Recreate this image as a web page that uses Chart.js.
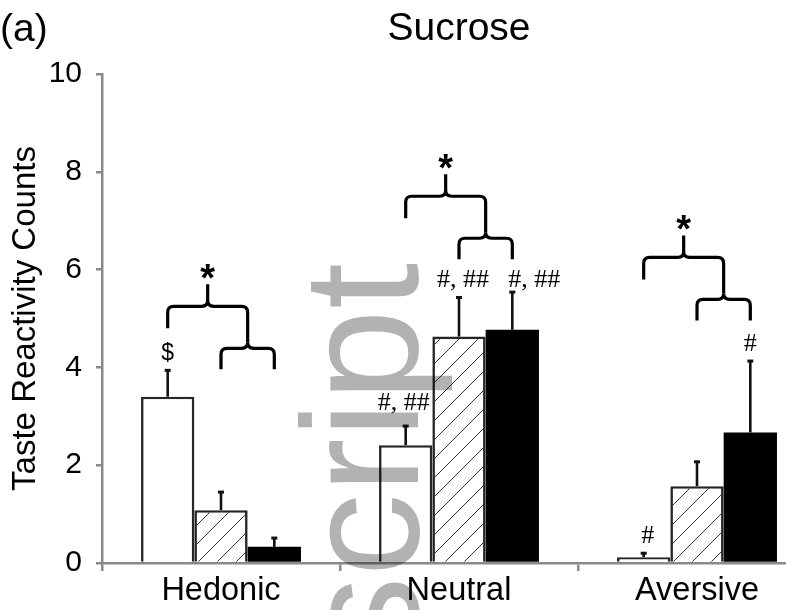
<!DOCTYPE html>
<html>
<head>
<meta charset="utf-8">
<script src="https://cdn.jsdelivr.net/npm/chart.js@4.4.1/dist/chart.umd.min.js"></script>
<style>
  html, body { margin: 0; padding: 0; background: #fff; overflow: hidden; width: 786px; height: 610px; }
  #wrap { position: relative; width: 826px; height: 610px; }
  canvas { display: block; }
</style>
</head>
<body>
<div id="wrap"><canvas id="chart" width="826" height="610"></canvas></div>
<script>
// Taste reactivity counts to sucrose, by response category
const categories = ['Hedonic', 'Neutral', 'Aversive'];

const openMeans    = [3.40, 2.41, 0.12];
const openErrors   = [0.54, 0.39, 0.08];
const hatchMeans   = [1.08, 4.63, 1.57];
const hatchErrors  = [0.37, 0.80, 0.50];
const filledMeans  = [0.33, 4.77, 2.67];
const filledErrors = [0.18, 0.77, 1.46];

// significance marks printed above each error bar
const openMarks   = ['$', '#, ##', '#'];
const hatchMarks  = ['', '#, ##', ''];
const filledMarks = ['', '#, ##', '#'];

// height (in counts) of the upper bracket of each group comparison
const bracketLevels = [5.25, 7.5, 6.25];

const yMin = 0, yMax = 10, yStep = 2;

const SANS = '"Liberation Sans", Arial, Helvetica, sans-serif';
const SERIF = '"Liberation Serif", "Times New Roman", serif';
const AXIS_GREY = '#8a8a8a';

// diagonal hatch fill
function makeHatch() {
  const s = 19;
  const c = document.createElement('canvas');
  c.width = s; c.height = s;
  const g = c.getContext('2d');
  g.fillStyle = '#fff';
  g.fillRect(0, 0, s, s);
  g.strokeStyle = '#333';
  g.lineWidth = 1;
  g.beginPath();
  g.moveTo(-1, s + 1); g.lineTo(s + 1, -1);
  g.moveTo(-2, 2); g.lineTo(2, -2);
  g.moveTo(s - 2, s + 2); g.lineTo(s + 2, s - 2);
  g.stroke();
  return document.getElementById('chart').getContext('2d').createPattern(c, 'repeat');
}

const errorSets = [openErrors, hatchErrors, filledErrors];
const markSets = [openMarks, hatchMarks, filledMarks];
// small nudges so marks sit clear of neighbouring labels: [dx, dy]
const markNudge = { '0-1': [-2, -6], '1-1': [4, 0], '2-1': [22, 5], '0-2': [4, 0] };

function drawBrace(ctx, x1, x2, y, drop1, drop2, rise, r) {
  // left leg, horizontal run with an upward cusp in the middle, right leg
  const mid = (x1 + x2) / 2;
  ctx.beginPath();
  ctx.moveTo(x1, y + drop1);
  ctx.lineTo(x1, y + r);
  ctx.quadraticCurveTo(x1, y, x1 + r, y);
  ctx.lineTo(mid - r, y);
  ctx.quadraticCurveTo(mid, y, mid, y - r);
  ctx.lineTo(mid, y - rise);
  ctx.moveTo(mid, y - r);
  ctx.quadraticCurveTo(mid, y, mid + r, y);
  ctx.lineTo(x2 - r, y);
  ctx.quadraticCurveTo(x2, y, x2, y + r);
  ctx.lineTo(x2, y + drop2);
  ctx.stroke();
}

function centredGlyph(ctx, text, x, cy) {
  const m = ctx.measureText(text);
  const asc = m.actualBoundingBoxAscent, desc = m.actualBoundingBoxDescent;
  ctx.fillText(text, x, cy + (asc - desc) / 2);
}

const overlayPlugin = {
  id: 'overlay',
  afterDatasetsDraw(chart) {
    const ctx = chart.ctx;
    const ys = chart.scales.y;
    ctx.save();

    // error bars (upper half only) with small caps
    chart.data.datasets.forEach((ds, i) => {
      const meta = chart.getDatasetMeta(i);
      meta.data.forEach((bar, j) => {
        const top = ys.getPixelForValue(ds.data[j] + errorSets[i][j]);
        ctx.strokeStyle = '#111';
        ctx.lineWidth = 2.6;
        ctx.beginPath();
        ctx.moveTo(bar.x, bar.y);
        ctx.lineTo(bar.x, top);
        ctx.stroke();
        ctx.fillStyle = '#111';
        ctx.fillRect(bar.x - 3, top - 1.5, 6, 3);

        const mark = markSets[i][j];
        if (mark) {
          const n = markNudge[i + '-' + j] || [0, 0];
          ctx.fillStyle = '#000';
          ctx.textAlign = 'center';
          ctx.textBaseline = 'alphabetic';
          ctx.font = mark === '$' ? '23px ' + SANS : '26px ' + SERIF;
          ctx.fillText(mark, bar.x + n[0], top - 10 + n[1]);
        }
      });
    });

    // comparison braces with asterisks
    const m0 = chart.getDatasetMeta(0).data;
    const m1 = chart.getDatasetMeta(1).data;
    const m2 = chart.getDatasetMeta(2).data;
    ctx.strokeStyle = '#000';
    ctx.lineWidth = 3.2;
    ctx.lineCap = 'butt';
    bracketLevels.forEach((lvl, j) => {
      const yB = ys.getPixelForValue(lvl);
      const ySmall = yB + 42;
      const c0 = m0[j].x, c1 = m1[j].x, c2 = m2[j].x;
      const joint = (c1 + c2) / 2;
      drawBrace(ctx, c0, joint, yB, 22, 42 - 6, 22, 6);
      drawBrace(ctx, c1, c2, ySmall, 21, 21, 6, 6);
      ctx.fillStyle = '#000';
      ctx.textAlign = 'center';
      ctx.font = 'bold 38px ' + SANS;
      centredGlyph(ctx, '*', (c0 + joint) / 2, yB - 22 - 13);
    });
    ctx.restore();
  },
  afterDraw(chart) {
    const ctx = chart.ctx;
    const area = chart.chartArea;
    ctx.save();
    ctx.fillStyle = '#000';
    ctx.textBaseline = 'alphabetic';

    // panel letter and title
    ctx.font = '39px ' + SANS;
    ctx.textAlign = 'left';
    ctx.fillText('(a)', 0, 41);
    ctx.font = '39px ' + SANS;
    ctx.textAlign = 'center';
    ctx.fillText('Sucrose', (area.left + area.right) / 2, 40);

    // y axis title
    ctx.save();
    ctx.translate(35, (area.top + area.bottom) / 2);
    ctx.rotate(-Math.PI / 2);
    ctx.font = '33px ' + SANS;
    ctx.textAlign = 'center';
    ctx.fillText('Taste Reactivity Counts', 0, 0);
    ctx.restore();

    // manuscript watermark
    ctx.save();
    ctx.translate(418, 263);
    ctx.rotate(-Math.PI / 2);
    ctx.font = '166px ' + SANS;
    ctx.textAlign = 'right';
    ctx.fillStyle = 'rgba(0,0,0,0.3)';
    ctx.fillText('script', 0, 0);
    ctx.restore();

    ctx.restore();
  }
};

new Chart(document.getElementById('chart'), {
  type: 'bar',
  data: {
    labels: categories,
    datasets: [
      { label: 'Open', data: openMeans, backgroundColor: '#ffffff', borderColor: '#262626', borderWidth: 2.6 },
      { label: 'Hatched', data: hatchMeans, backgroundColor: makeHatch(), borderColor: '#262626', borderWidth: 2.6 },
      { label: 'Filled', data: filledMeans, backgroundColor: '#000000', borderColor: '#000000', borderWidth: 0 }
    ]
  },
  options: {
    responsive: false,
    animation: false,
    devicePixelRatio: 1,
    categoryPercentage: 0.672,
    barPercentage: 1.0,
    layout: { padding: { top: 74, right: 10, left: 0, bottom: 0 } },
    plugins: { legend: { display: false }, tooltip: { enabled: false }, title: { display: false } },
    scales: {
      x: {
        type: 'category',
        grid: { display: true, offset: true, drawOnChartArea: false, drawTicks: true, tickLength: 8, color: AXIS_GREY, lineWidth: 2.5 },
        border: { display: true, color: AXIS_GREY, width: 2.5 },
        ticks: { color: '#000', font: { family: SANS, size: 32.5 }, padding: 1, maxRotation: 0, autoSkip: false },
        afterFit(s) { s.height = 47; }
      },
      y: {
        min: yMin,
        max: yMax,
        grid: { display: true, drawOnChartArea: false, drawTicks: true, tickLength: 6, color: AXIS_GREY, lineWidth: 2.5 },
        border: { display: true, color: AXIS_GREY, width: 2.5 },
        ticks: { stepSize: yStep, color: '#000', font: { family: SANS, size: 30 }, padding: 14 },
        afterFit(s) { s.width = 102; }
      }
    }
  },
  plugins: [overlayPlugin]
});
</script>
</body>
</html>
